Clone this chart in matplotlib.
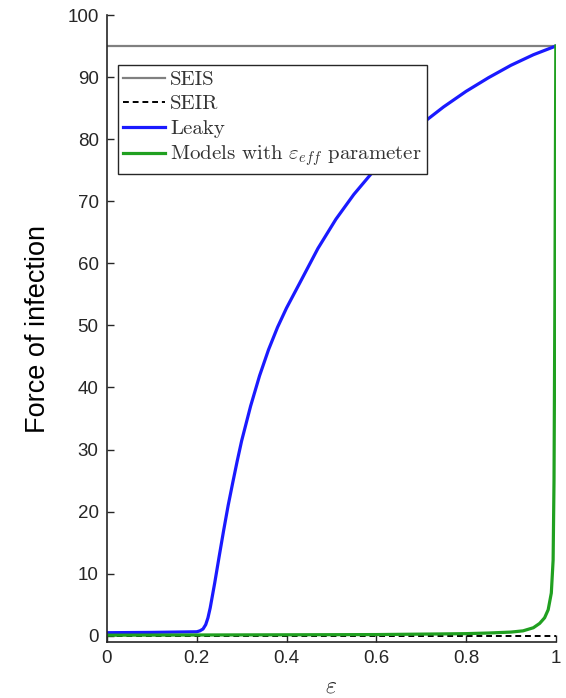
import numpy as np
import matplotlib
matplotlib.use('Agg')
import matplotlib.pyplot as plt

plt.rcParams['mathtext.fontset'] = 'cm'
plt.rcParams['font.family'] = ['Liberation Sans', 'DejaVu Sans']

# values
eps_flat = [0.0, 1.0]
seis = [95.0, 95.0]
seir = [0.0, 0.0]

eps_leaky = [0.0, 0.1, 0.2, 0.207, 0.214, 0.22, 0.225, 0.23, 0.24, 0.25, 0.26,
             0.27, 0.28, 0.29, 0.30, 0.32, 0.34, 0.36, 0.38, 0.40, 0.43,
             0.47, 0.51, 0.55, 0.60, 0.65, 0.70, 0.75, 0.80, 0.85, 0.90,
             0.95, 1.0]
leaky = [0.5, 0.55, 0.65, 0.8, 1.1, 1.8, 2.9, 4.5, 8.5, 12.8, 17.0,
         21.0, 24.6, 28.1, 31.4, 37.0, 41.9, 46.1, 49.7, 52.8, 56.9,
         62.4, 67.1, 71.1, 75.4, 79.2, 82.4, 85.2, 87.7, 89.9, 91.9,
         93.6, 95.0]

eps_eff = [0.0, 0.3, 0.6, 0.74, 0.8, 0.85, 0.9, 0.927, 0.95, 0.964, 0.975,
           0.983, 0.99, 0.994, 0.996, 0.998, 0.999, 1.0]
eff = [0.1, 0.15, 0.2, 0.3, 0.35, 0.45, 0.6, 0.8, 1.3, 2.0, 2.9,
       4.2, 6.9, 12.2, 25.0, 55.0, 75.0, 95.0]

fig = plt.figure(figsize=(5.66, 6.98), dpi=100)
ax = fig.add_axes([0.189, 0.0802, 0.793, 0.8983])

ax.plot(eps_flat, seis, color='#808080', lw=1.6, label='SEIS')
ax.plot(eps_flat, seir, color='black', lw=1.4, ls=(0, (3, 2)), label='SEIR')
ax.plot(eps_leaky, leaky, color='#1a1aff', lw=2.3, label='Leaky')
ax.plot(eps_eff, eff, color='#20a020', lw=2.3,
        label=r'Models with $\varepsilon_{eff}$ parameter')

ax.set_xlim(0, 1)
ax.set_ylim(-1, 100)
ax.set_xticks([0, 0.2, 0.4, 0.6, 0.8, 1])
ax.set_xticklabels(['0', '0.2', '0.4', '0.6', '0.8', '1'])
ax.set_yticks(np.arange(0, 101, 10))

for side in ['top', 'right']:
    ax.spines[side].set_visible(False)
for side in ['left', 'bottom']:
    ax.spines[side].set_color('#262626')
    ax.spines[side].set_linewidth(1.2)
ax.tick_params(direction='in', length=5, width=1.0, colors='#262626',
               labelsize=13.5, pad=6, labelcolor='#262626')

ax.set_ylabel('Force of infection', fontsize=19.5, color='black', labelpad=12)
ax.set_xlabel(r'$\varepsilon$', fontsize=17, color='#262626', labelpad=6)

leg = ax.legend(loc='upper left', bbox_to_anchor=(0.0245, 0.92),
                prop={'family': 'cmr10', 'size': 15}, frameon=True,
                fancybox=False, framealpha=1, edgecolor='#262626',
                handlelength=2.0, handletextpad=0.25, labelspacing=0.28,
                borderpad=0.25, borderaxespad=0)
leg.get_frame().set_linewidth(1.0)
for t in leg.get_texts():
    t.set_color('#333333')

fig.savefig('out.png', dpi=100)
